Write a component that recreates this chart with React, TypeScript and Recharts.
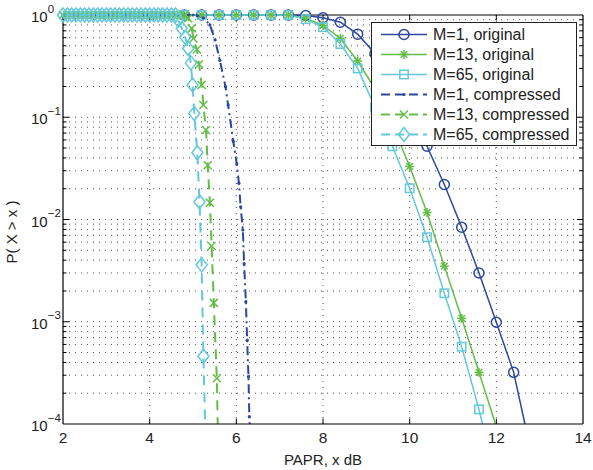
import React from 'react';
import { LineChart, Line, XAxis, YAxis, ReferenceLine } from 'recharts';

const FONT = '"Liberation Sans", Arial, Helvetica, sans-serif';
const BLUE = '#2c479d';
const GREEN = '#63bd46';
const CYAN = '#64c8dc';
const FLOOR = 1e-4;

const xTicks = [2, 4, 6, 8, 10, 12, 14];
const yTicks = [1e-4, 1e-3, 1e-2, 1e-1, 1];

// original signals, one marker every 0.4 dB
const origX = [4.8, 5.2, 5.6, 6.0, 6.4, 6.8, 7.2, 7.6, 8.0, 8.4, 8.8, 9.2, 9.6, 10.0, 10.4, 10.8, 11.2, 11.6, 12.0, 12.4];
const m1Orig = [1, 1, 1, 1, 1, 1, 1, 0.99, 0.94, 0.85, 0.65, 0.42, 0.23, 0.115, 0.052, 0.022, 0.0084, 0.003, 0.00099, 0.00032];
const m13Orig = [1, 1, 1, 1, 1, 1, 1, 0.93, 0.79, 0.59, 0.355, 0.19, 0.085, 0.033, 0.0117, 0.0035, 0.00108, 0.00032];
const m65Orig = [1, 1, 1, 1, 1, 1, 1, 0.91, 0.76, 0.52, 0.3, 0.125, 0.052, 0.0202, 0.0067, 0.0019, 0.00057, 0.000139];
const origEnd = { m1: 12.66, m13: 11.98, m65: 11.68 };

// compressed signals
const m1CompX = [2.0, 2.1, 2.2, 2.3, 2.4, 2.5, 2.6, 2.7, 2.8, 2.9, 3.0, 3.1, 3.2, 3.3, 3.4, 3.5, 3.6, 3.7, 3.8, 3.9, 4.0, 4.1, 4.2, 4.3, 4.4, 4.5, 4.6, 4.7, 4.8, 4.9, 5.0,
  5.1, 5.24, 5.39, 5.51, 5.62, 5.75, 5.81, 5.93, 6.01, 6.06, 6.1, 6.15, 6.18, 6.22, 6.25, 6.28, 6.3];
const m1Comp = [1, 1, 1, 1, 1, 1, 1, 1, 1, 1, 1, 1, 1, 1, 1, 1, 1, 1, 1, 1, 1, 1, 1, 1, 1, 1, 1, 1, 1, 1, 1,
  0.985, 0.94, 0.8, 0.57, 0.36, 0.199, 0.132, 0.058, 0.035, 0.0226, 0.0133, 0.0079, 0.0037, 0.00157, 0.00066, 0.00029, 0.000118];
const m13CompX = [2.0, 2.1, 2.2, 2.3, 2.4, 2.5, 2.6, 2.7, 2.8, 2.9, 3.0, 3.1, 3.2, 3.3, 3.4, 3.5, 3.6, 3.7, 3.8, 3.9, 4.0, 4.1, 4.2, 4.3, 4.4, 4.5, 4.6, 4.7, 4.8,
  4.89, 4.97, 5.01, 5.09, 5.14, 5.2, 5.24, 5.3, 5.34, 5.39, 5.43, 5.48, 5.55];
const m13Comp = [1, 1, 1, 1, 1, 1, 1, 1, 1, 1, 1, 1, 1, 1, 1, 1, 1, 1, 1, 1, 1, 1, 1, 1, 1, 1, 1, 1, 0.98,
  0.93, 0.74, 0.59, 0.46, 0.33, 0.207, 0.132, 0.075, 0.034, 0.0146, 0.0055, 0.00153, 0.00028];
const m65CompX = [2.0, 2.1, 2.2, 2.3, 2.4, 2.5, 2.6, 2.7, 2.8, 2.9, 3.0, 3.1, 3.2, 3.3, 3.4, 3.5, 3.6, 3.7, 3.8, 3.9, 4.0, 4.1, 4.2, 4.3, 4.4, 4.5, 4.6,
  4.66, 4.74, 4.82, 4.89, 4.95, 4.99, 5.03, 5.1, 5.15, 5.2, 5.24];
const m65Comp = [1, 1, 1, 1, 1, 1, 1, 1, 1, 1, 1, 1, 1, 1, 1, 1, 1, 1, 1, 1, 1, 1, 1, 1, 1, 1, 1,
  0.89, 0.74, 0.605, 0.47, 0.34, 0.207, 0.109, 0.045, 0.0149, 0.0036, 0.00046];
const compEnd = { m1: 6.31, m13: 5.57, m65: 5.28 };

const legendNames = ['M=1, original', 'M=13, original', 'M=65, original', 'M=1, compressed', 'M=13, compressed', 'M=65, compressed'];

// series end where they leave the plot at the bottom (no marker there)
const pts = (xs: number[], ys: number[], endX: number) =>
  [...ys.map((y, i) => ({ x: xs[i], y })), { x: endX, y: FLOOR, end: true }];

const minorY = [-4, -3, -2, -1].flatMap((d) => [2, 3, 4, 5, 6, 7, 8, 9].map((k) => k * Math.pow(10, d)));
const majorY = [1e-3, 1e-2, 1e-1];
const gridX = [4, 6, 8, 10, 12];

type Kind = 'circle' | 'star' | 'square' | 'dot' | 'cross' | 'diamond';

const Mark = ({ kind, cx, cy, color }: { kind: Kind; cx: number; cy: number; color: string }) => {
  const sw = 1.5;
  switch (kind) {
    case 'circle':
      return <circle cx={cx} cy={cy} r={5} fill="none" stroke={color} strokeWidth={sw} />;
    case 'square':
      return <rect x={cx - 4.2} y={cy - 4.2} width={8.4} height={8.4} fill="none" stroke={color} strokeWidth={sw} />;
    case 'diamond':
      return <polygon points={`${cx},${cy - 7} ${cx + 5.5},${cy} ${cx},${cy + 7} ${cx - 5.5},${cy}`} fill="none" stroke={color} strokeWidth={sw} />;
    case 'dot':
      return <circle cx={cx} cy={cy} r={1.6} fill={color} stroke="none" />;
    case 'cross':
      return (
        <g stroke={color} strokeWidth={sw}>
          <line x1={cx - 4} y1={cy - 4} x2={cx + 4} y2={cy + 4} />
          <line x1={cx - 4} y1={cy + 4} x2={cx + 4} y2={cy - 4} />
        </g>
      );
    case 'star':
    default:
      return (
        <g stroke={color} strokeWidth={sw}>
          <line x1={cx - 4.5} y1={cy} x2={cx + 4.5} y2={cy} />
          <line x1={cx} y1={cy - 4.5} x2={cx} y2={cy + 4.5} />
          <line x1={cx - 3.3} y1={cy - 3.3} x2={cx + 3.3} y2={cy + 3.3} />
          <line x1={cx - 3.3} y1={cy + 3.3} x2={cx + 3.3} y2={cy - 3.3} />
        </g>
      );
  }
};

const marker = (kind: Kind, color: string) => (p: any) => {
  const { cx, cy, payload, index } = p;
  if (!payload || payload.end || cx == null || cy == null) return <g key={`m${index}`} />;
  return <Mark key={`m${index}`} kind={kind} cx={cx} cy={cy} color={color} />;
};

const LogTick = (props: any) => {
  const { y, payload } = props;
  const exp = Math.round(Math.log10(payload.value));
  return (
    <text x={31} y={y + 7} fontSize={15} fontFamily={FONT} fill="#222" textAnchor="start">
      10
      <tspan dy={-9.5} fontSize={11.5}>{exp < 0 ? `\u2212${-exp}` : `${exp}`}</tspan>
    </text>
  );
};

const series = [
  { name: legendNames[0], color: BLUE, kind: 'circle' as Kind, dash: undefined, w: 1.5 },
  { name: legendNames[1], color: GREEN, kind: 'star' as Kind, dash: undefined, w: 1.5 },
  { name: legendNames[2], color: CYAN, kind: 'square' as Kind, dash: undefined, w: 1.5 },
  { name: legendNames[3], color: BLUE, kind: 'dot' as Kind, dash: '9 4 2 4', w: 2 },
  { name: legendNames[4], color: GREEN, kind: 'cross' as Kind, dash: '10 7', w: 2 },
  { name: legendNames[5], color: CYAN, kind: 'diamond' as Kind, dash: '10 7', w: 2 },
];

const LegendBox = () => (
  <svg width={206} height={124} style={{ display: 'block' }}>
    <rect x={0.5} y={0.5} width={205} height={123} fill="#fff" stroke="#222" strokeWidth={1} />
    {series.map((s, i) => {
      const cy = 12.5 + i * 20;
      return (
        <g key={s.name}>
          <line x1={10} y1={cy} x2={56} y2={cy} stroke={s.color} strokeWidth={s.w} strokeDasharray={s.dash ? '9 5' : undefined} />
          <Mark kind={s.kind} cx={33} cy={cy} color={s.color} />
          <text x={62} y={cy + 5.5} fontSize={16} fontFamily={FONT} fill="#222">{s.name}</text>
        </g>
      );
    })}
  </svg>
);

const App = () => {
  const data = [
    pts(origX, m1Orig, origEnd.m1),
    pts(origX, m13Orig, origEnd.m13),
    pts(origX, m65Orig, origEnd.m65),
    pts(m1CompX, m1Comp, compEnd.m1),
    pts(m13CompX, m13Comp, compEnd.m13),
    pts(m65CompX, m65Comp, compEnd.m65),
  ];
  const grid = { stroke: '#555', strokeWidth: 1, strokeDasharray: '1 5' };
  return (
    <div style={{ position: 'absolute', left: 0, top: 0, width: 593, height: 470, background: '#fff' }}>
      <LineChart width={593} height={470} margin={{ top: 15, right: 10, bottom: 0, left: 0 }}>
        <XAxis
          dataKey="x"
          type="number"
          domain={[2, 14]}
          ticks={xTicks}
          interval={0}
          tickLine={false}
          axisLine={{ stroke: '#000', strokeWidth: 1.2 }}
          tick={{ fontSize: 15.5, fill: '#222', fontFamily: FONT }}
          height={46}
          label={{ value: 'PAPR, x dB', position: 'insideBottom', offset: 5, fontSize: 15, fill: '#222', fontFamily: FONT }}
        />
        <YAxis
          dataKey="y"
          type="number"
          scale="log"
          domain={[FLOOR, 1]}
          ticks={yTicks}
          interval={0}
          tickLine={false}
          axisLine={{ stroke: '#000', strokeWidth: 1.2 }}
          width={63}
          tick={<LogTick />}
          label={{
            content: () => (
              <text x={17} y={232} transform="rotate(-90 17 232)" textAnchor="middle" fontSize={15} fontFamily={FONT} fill="#222">
                P( X &gt; x )
              </text>
            ),
          }}
        />
        {minorY.map((v) => (
          <ReferenceLine key={`gy${v}`} y={v} {...grid} />
        ))}
        {majorY.map((v) => (
          <ReferenceLine key={`gM${v}`} y={v} {...grid} />
        ))}
        {gridX.map((v) => (
          <ReferenceLine key={`gx${v}`} x={v} {...grid} />
        ))}
        {minorY.map((v) => (
          <ReferenceLine key={`tl${v}`} segment={[{ x: 2, y: v }, { x: 2.08, y: v }]} stroke="#000" />
        ))}
        {minorY.map((v) => (
          <ReferenceLine key={`tr${v}`} segment={[{ x: 13.92, y: v }, { x: 14, y: v }]} stroke="#000" />
        ))}
        {majorY.map((v) => (
          <ReferenceLine key={`Tl${v}`} segment={[{ x: 2, y: v }, { x: 2.14, y: v }]} stroke="#000" />
        ))}
        {majorY.map((v) => (
          <ReferenceLine key={`Tr${v}`} segment={[{ x: 13.86, y: v }, { x: 14, y: v }]} stroke="#000" />
        ))}
        {gridX.map((v) => (
          <ReferenceLine key={`Tb${v}`} segment={[{ x: v, y: FLOOR }, { x: v, y: 1.13e-4 }]} stroke="#000" />
        ))}
        {gridX.map((v) => (
          <ReferenceLine key={`Tt${v}`} segment={[{ x: v, y: 1 }, { x: v, y: 0.885 }]} stroke="#000" />
        ))}
        <ReferenceLine y={1} stroke="#000" strokeWidth={1.2} />
        <ReferenceLine x={14} stroke="#000" strokeWidth={1.2} />
        {series.map((s, i) => (
          <Line
            key={s.name}
            data={data[i]}
            dataKey="y"
            name={s.name}
            type="linear"
            stroke={s.color}
            strokeWidth={s.w}
            strokeDasharray={s.dash}
            dot={marker(s.kind, s.color)}
            activeDot={false}
            isAnimationActive={false}
          />
        ))}
      </LineChart>
      <div style={{ position: 'absolute', left: 371, top: 22 }}>
        <LegendBox />
      </div>
    </div>
  );
};

export default App;
